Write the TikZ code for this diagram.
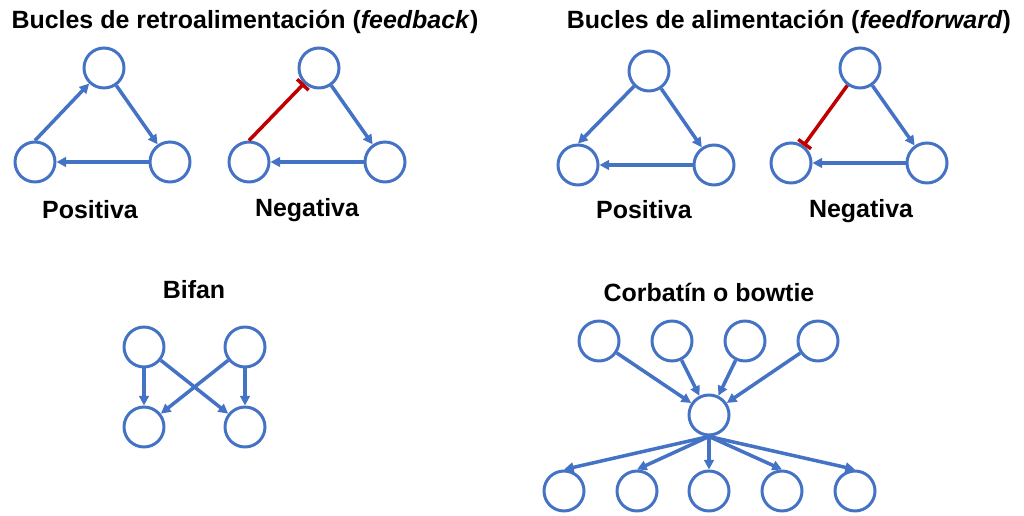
\documentclass[tikz,border=0pt]{standalone}
\usepackage{fontspec}
\setmainfont{Liberation Sans}
\usetikzlibrary{arrows.meta}
\definecolor{nodeblue}{HTML}{4472C4}
\definecolor{inhred}{HTML}{C00000}
\begin{document}
\begin{tikzpicture}[x=0.02cm,y=-0.02cm,
    nd/.style={circle,draw=nodeblue,line width=1.7pt,minimum size=0.8cm,inner sep=0pt},
    act/.style={nodeblue,line width=2pt,-{Triangle[length=5.5pt,width=5.5pt]}},
    inh/.style={inhred,line width=2pt,-{Bar[width=9pt]}},
    lbl/.style={font=\fontsize{14.2}{17}\selectfont\bfseries}]
        \useasboundingbox[fill=white] (0,0) rectangle (1024,516);
        % titulos
        \node[lbl] (tfb) at (245,22) {Bucles de retroalimentación (\textit{feedback})};
        \node[lbl] (tff) at (789,22) {Bucles de alimentación (\textit{feedforward})};
        \node[lbl] (tbif) at (194,290) {Bifan};
        \node[lbl] (tbow) at (709,292) {Corbatín o bowtie};
        % feedback positivo
        \node[nd] (fbpT) at (104,68) {};
        \node[nd] (fbpL) at (35,162) {};
        \node[nd] (fbpR) at (170,162) {};
        \draw[act] (fbpL.north)--(fbpT);
        \draw[act] (fbpT)--(fbpR);
        \draw[act] (fbpR)--(fbpL);
        \node[lbl] (lfbp) at (90,210) {Positiva};
        % feedback negativo
        \node[nd] (fbnT) at (319,68) {};
        \node[nd] (fbnL) at (249,162) {};
        \node[nd] (fbnR) at (385,162) {};
        \draw[inh] (fbnL.north)--(fbnT);
        \draw[act] (fbnT)--(fbnR);
        \draw[act] (fbnR)--(fbnL);
        \node[lbl] (lfbn) at (307,210) {Negativa};
        % feedforward positivo
        \node[nd] (ffpT) at (649,71) {};
        \node[nd] (ffpL) at (578,165) {};
        \node[nd] (ffpR) at (714,165) {};
        \draw[act] (ffpT)--(ffpL.north);
        \draw[act] (ffpT)--(ffpR);
        \draw[act] (ffpR)--(ffpL);
        \node[lbl] (lffp) at (644,210) {Positiva};
        % feedforward negativo
        \node[nd] (ffnT) at (860,68) {};
        \node[nd] (ffnL) at (791,163) {};
        \node[nd] (ffnR) at (927,163) {};
        \draw[inh] (ffnT)--(ffnL);
        \draw[act] (ffnT)--(ffnR);
        \draw[act] (ffnR)--(ffnL);
        \node[lbl] (lffn) at (861,211) {Negativa};
        % bifan
        \node[nd] (bTL) at (144,347) {};
        \node[nd] (bTR) at (245,347) {};
        \node[nd] (bBL) at (144,427) {};
        \node[nd] (bBR) at (245,427) {};
        \draw[act] (bTL)--(bBL);
        \draw[act] (bTL)--(bBR);
        \draw[act] (bTR)--(bBL);
        \draw[act] (bTR)--(bBR);
        % bowtie
        \node[nd] (mid) at (709,415) {};
        \foreach \x [count=\i] in {599,672,745,818} {
            \node[nd] (in\i) at (\x,341) {};
            \draw[act] (in\i)--(mid);
        }
        \foreach \x [count=\i] in {564,637,709,782,855} {
            \node[nd] (out\i) at (\x,491) {};
            \draw[act] (mid.south)--(out\i.north);
        }
    \end{tikzpicture}
\end{document}
